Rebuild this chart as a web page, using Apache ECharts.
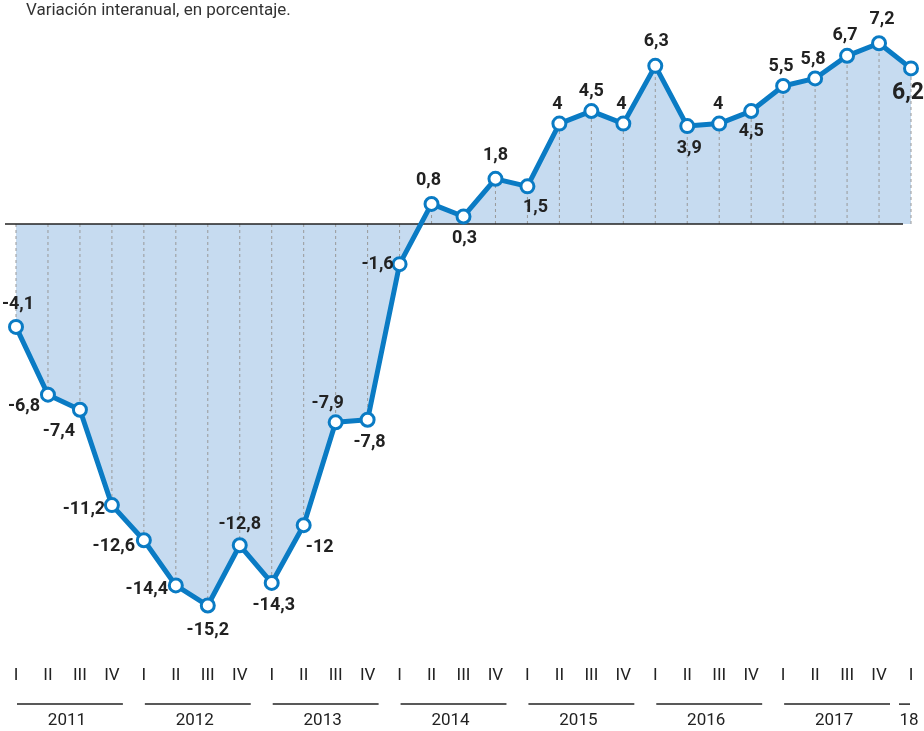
<!DOCTYPE html>
<html>
<head>
<meta charset="utf-8">
<script src="https://cdn.jsdelivr.net/npm/echarts@6/dist/echarts.min.js"></script>
<style>
html,body{margin:0;padding:0;background:#fff;}
#c{width:924px;height:731px;}
</style>
</head>
<body>
<div id="c"></div>
<script>
const quarters = ['I','II','III','IV','I','II','III','IV','I','II','III','IV','I','II','III','IV','I','II','III','IV','I','II','III','IV','I','II','III','IV','I'];
const years = ['2011','2012','2013','2014','2015','2016','2017','18'];
const values = [-4.1,-6.8,-7.4,-11.2,-12.6,-14.4,-15.2,-12.8,-14.3,-12,-7.9,-7.8,-1.6,0.8,0.3,1.8,1.5,4,4.5,4,6.3,3.9,4,4.5,5.5,5.8,6.7,7.2,6.2];
const subtitle = 'Variación interanual, en porcentaje.';

// label placement (style only): pixel offsets from each marker
const labelOffsets = [[2,-22],[-24,12],[-21,22],[-28,4],[-30,6],[-29,4],[0,25],[0,-21],[2,23],[16,22],[-8,-19],[2,23],[-22,0],[-3,-23],[1,22],[0,-23],[8,21],[-2,-19],[0,-20],[-2,-19],[1,-24],[2,22],[-1,-19],[0,20],[-2,-19],[-2,-19],[-2,-20],[3,-24],[-3,25]];

const FONT = 'Roboto,"Noto Sans",sans-serif';
const BLUE = '#0a7bc4';
const FILL = '#c6dbf0';
const Y_MIN = -16, Y_MAX = 8;

const chart = echarts.init(document.getElementById('c'), null, {renderer:'canvas'});
const n = values.length;
const pts = values.map((v,i)=>[i,v]);

const labelData = values.map((v,i)=>({
  value: v,
  label: {
    offset: labelOffsets[i],
    fontSize: i === n-1 ? 23 : 18
  }
}));

chart.setOption({
  animation: false,
  title: {
    text: subtitle,
    left: 21, top: -3,
    textStyle: {fontFamily: FONT, fontSize: 17, fontWeight: 'normal', color: '#333'}
  },
  grid: {left: 16, right: 13, top: 23.2, bottom: 105.4, containLabel: false},
  xAxis: {
    type: 'category',
    data: quarters.map((q,i)=>String(i)),
    boundaryGap: false,
    axisLine: {show: false},
    axisTick: {show: false},
    splitLine: {show: false},
    axisLabel: {
      interval: 0, margin: 42,
      formatter: (v, i) => quarters[i],
      fontFamily: FONT, fontSize: 17, color: '#222'
    }
  },
  yAxis: {
    type: 'value', min: Y_MIN, max: Y_MAX,
    show: false
  },
  series: [
    {
      type: 'line', data: values, z: 1,
      symbol: 'none', lineStyle: {width: 0},
      areaStyle: {color: FILL, opacity: 1, origin: 0},
      silent: true
    },
    {
      type: 'custom', z: 2, data: pts, silent: true,
      renderItem: (params, api) => {
        const i = api.value(0), v = api.value(1);
        const a = api.coord([i, 0]), b = api.coord([i, v]);
        return {type:'line', shape:{x1:a[0], y1:a[1], x2:b[0], y2:b[1]},
          style:{stroke:'#999', lineWidth:1, lineDash:[3,3]}};
      }
    },
    {
      type: 'custom', z: 3, data: [[0]], silent: true, clip: false,
      renderItem: (params, api) => {
        const a = api.coord([0, 0]), b = api.coord([n-1, 0]);
        return {type:'line', shape:{x1:a[0]-11, y1:a[1], x2:b[0]-8, y2:b[1]},
          style:{stroke:'#222', lineWidth:1.5}};
      }
    },
    {
      type: 'line', data: labelData, z: 5,
      symbol: 'circle', symbolSize: 13,
      lineStyle: {color: BLUE, width: 5},
      itemStyle: {color: '#fff', borderColor: BLUE, borderWidth: 3},
      label: {
        show: true, position: 'inside',
        formatter: p => String(p.value).replace('.', ','),
        fontFamily: FONT, fontWeight: 'bold', fontSize: 18, color: '#222'
      }
    },
    {
      type: 'custom', z: 4, data: years.map((y,k)=>[k*4]), silent: true, clip: false,
      renderItem: (params, api) => {
        const k = params.dataIndex;
        const first = k*4, last = Math.min(k*4+3, n-1);
        const base = api.coord([first, Y_MIN])[1];
        const xa = api.coord([first, Y_MIN])[0], xb = api.coord([last, Y_MIN])[0];
        let x1, x2, cx;
        if (last > first) { x1 = xa + 1; x2 = xb + 11; cx = (xa + xb)/2 + 3; }
        else { x1 = xa - 12; x2 = xa - 1; cx = xa - 2; }
        return {type:'group', children:[
          {type:'line', shape:{x1:x1, y1:base+78.5, x2:x2, y2:base+78.5}, style:{stroke:'#222', lineWidth:1.5}},
          {type:'text', style:{text: years[k], x: cx, y: base+95.5, align:'center', verticalAlign:'middle',
            font: 'normal 17px ' + FONT, fill:'#222'}}
        ]};
      }
    }
  ]
});
</script>
</body>
</html>
